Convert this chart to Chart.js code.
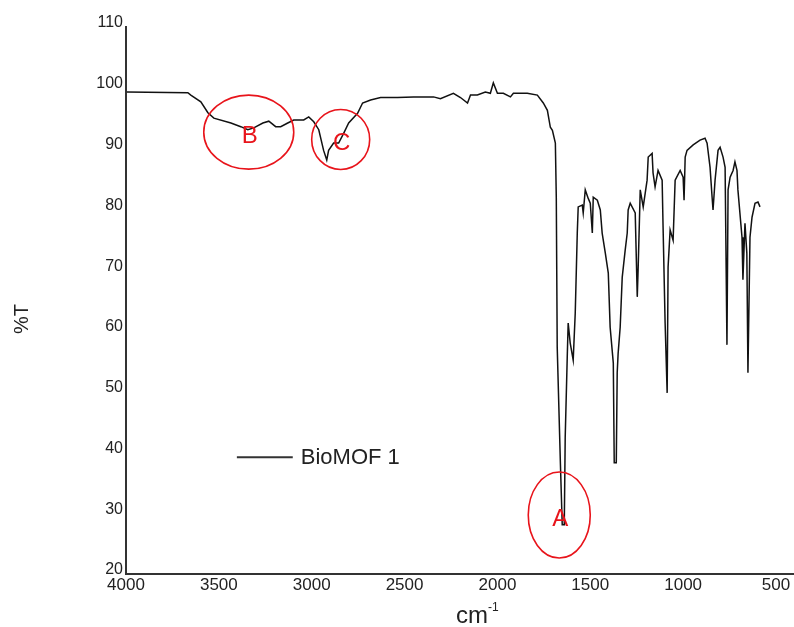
<!DOCTYPE html>
<html>
<head>
<meta charset="utf-8">
<title>BioMOF 1 IR spectrum</title>
<script src="https://cdn.jsdelivr.net/npm/chart.js@4.4.1/dist/chart.umd.min.js"></script>
<style>
  html, body { margin: 0; padding: 0; background: #fff; }
  #wrap { width: 794px; height: 627px; position: relative; }
</style>
</head>
<body>
<div id="wrap"><canvas id="ir"></canvas></div>
<script>
// spectrum: wavenumber (cm-1) and %T
const wavenumbers = [
  3995, 3667, 3651, 3597, 3559, 3527, 3435, 3382, 3344, 3312, 3263, 3231, 3194, 3167, 3129, 3097,
  3043, 3016, 2989, 2962, 2936, 2919, 2909, 2882, 2855, 2828, 2801, 2753, 2726, 2683, 2629, 2538,
  2452, 2344, 2307, 2237, 2199, 2161, 2145, 2108, 2065, 2038, 2022, 2000, 1968, 1930, 1914, 1839,
  1785, 1753, 1731, 1715, 1704, 1688, 1683, 1678, 1661, 1651, 1640, 1635, 1624, 1619, 1608, 1592,
  1581, 1570, 1565, 1543, 1538, 1527, 1511, 1500, 1489, 1484, 1462, 1446, 1436, 1419, 1403, 1393,
  1376, 1371, 1360, 1355, 1350, 1339, 1328, 1312, 1301, 1296, 1285, 1258, 1247, 1242, 1231, 1215,
  1194, 1188, 1167, 1162, 1151, 1135, 1113, 1108, 1097, 1086, 1081, 1070, 1054, 1043, 1016, 1000,
  995, 989, 979, 946, 909, 882, 871, 855, 844, 839, 828, 812, 801, 785, 774, 764,
  758, 747, 731, 721, 710, 705, 683, 678, 667, 657, 651, 640, 629, 613, 597, 586
];
const transmittance = [
  99.3, 99.2, 98.8, 97.7, 95.9, 95.0, 94.2, 93.6, 93.1, 93.4, 94.2, 94.5, 93.6, 93.6, 94.2, 94.7,
  94.7, 95.2, 94.4, 93.1, 89.7, 88.1, 89.7, 90.9, 90.9, 92.5, 94.2, 95.8, 97.5, 98.0, 98.4, 98.4,
  98.5, 98.5, 98.2, 99.1, 98.4, 97.5, 98.8, 98.8, 99.3, 99.1, 100.8, 99.1, 99.1, 98.5, 99.1, 99.1,
  98.8, 97.5, 96.3, 93.5, 93.0, 90.9, 82.0, 57.3, 38.3, 28.1, 28.1, 42.5, 55.7, 61.3, 58.0, 55.2,
  62.9, 76.1, 80.4, 80.7, 79.4, 83.2, 81.8, 81.0, 76.1, 82.0, 81.5, 79.9, 76.1, 72.8, 69.5, 60.6,
  54.7, 38.3, 38.3, 53.1, 56.3, 60.6, 68.8, 73.3, 76.1, 79.9, 81.0, 79.4, 65.6, 70.5, 83.2, 80.4,
  84.8, 88.6, 89.2, 86.0, 83.7, 86.4, 84.8, 77.1, 61.3, 49.8, 70.5, 76.6, 74.9, 84.8, 86.4, 85.3,
  81.5, 88.6, 89.7, 90.6, 91.4, 91.7, 90.9, 86.9, 82.0, 79.9, 84.8, 89.7, 90.2, 88.6, 86.9, 57.7,
  83.2, 85.3, 86.4, 87.8, 86.4, 83.2, 75.4, 68.4, 77.7, 72.8, 53.1, 75.4, 78.7, 81.0, 81.2, 80.4
];

const xTicks = [4000, 3500, 3000, 2500, 2000, 1500, 1000, 500];
const yTicks = [20, 30, 40, 50, 60, 70, 80, 90, 100, 110];

// circled bands, centres in data units
const bandLabels = ['A', 'B', 'C'];
const bandWn = [1667, 3339, 2844];
const bandT = [29.7, 92.7, 91.5];

const seriesName = 'BioMOF 1';
// where the legend sample sits, in data units
const legendWn = [3403, 3102];
const legendT = 39.2;

const inkColor = '#222';
const markColor = '#e8141b';

const points = wavenumbers.map((w, i) => ({ x: w, y: transmittance[i] }));

const overlay = {
  id: 'overlay',
  afterDraw(chart) {
    const ctx = chart.ctx;
    const xs = chart.scales.x;
    const ys = chart.scales.y;
    ctx.save();

    // red circles + letters
    const radii = { A: [31, 43], B: [45, 37], C: [29, 30] };
    bandLabels.forEach((lab, i) => {
      const cx = xs.getPixelForValue(bandWn[i]);
      const cy = ys.getPixelForValue(bandT[i]);
      ctx.strokeStyle = markColor;
      ctx.lineWidth = 1.6;
      ctx.beginPath();
      ctx.ellipse(cx, cy, radii[lab][0], radii[lab][1], 0, 0, Math.PI * 2);
      ctx.stroke();
      ctx.fillStyle = markColor;
      ctx.font = '24px "Liberation Sans", Arial, sans-serif';
      ctx.textAlign = 'center';
      ctx.textBaseline = 'middle';
      ctx.fillText(lab, cx + 1, cy + 4);
    });

    // legend inside the plot
    const lx0 = xs.getPixelForValue(legendWn[0]);
    const lx1 = xs.getPixelForValue(legendWn[1]);
    const ly = ys.getPixelForValue(legendT);
    ctx.strokeStyle = '#333';
    ctx.lineWidth = 2;
    ctx.beginPath();
    ctx.moveTo(lx0, ly);
    ctx.lineTo(lx1, ly);
    ctx.stroke();
    ctx.fillStyle = inkColor;
    ctx.font = '22px "Liberation Sans", Arial, sans-serif';
    ctx.textAlign = 'left';
    ctx.textBaseline = 'middle';
    ctx.fillText(seriesName, lx1 + 8, ly + 1);

    // axis titles
    ctx.font = '20px "Liberation Sans", Arial, sans-serif';
    ctx.textAlign = 'center';
    ctx.textBaseline = 'middle';
    ctx.translate(22, 319);
    ctx.rotate(-Math.PI / 2);
    ctx.fillText('%T', 0, 0);
    ctx.setTransform(1, 0, 0, 1, 0, 0);

    ctx.textAlign = 'left';
    ctx.textBaseline = 'alphabetic';
    ctx.font = '24px "Liberation Sans", Arial, sans-serif';
    ctx.fillText('cm', 456, 623);
    const w = ctx.measureText('cm').width;
    ctx.font = '12px "Liberation Sans", Arial, sans-serif';
    ctx.fillText('-1', 456 + w, 611);
    ctx.restore();
  }
};

new Chart(document.getElementById('ir'), {
  type: 'line',
  data: {
    datasets: [{
      label: seriesName,
      data: points,
      borderColor: '#111',
      borderWidth: 1.5,
      pointRadius: 0,
      tension: 0,
      fill: false
    }]
  },
  options: {
    responsive: true,
    maintainAspectRatio: false,
    animation: false,
    layout: { padding: { top: 27, left: 0, right: 0, bottom: 0 } },
    plugins: {
      legend: { display: false },
      tooltip: { enabled: false }
    },
    scales: {
      x: {
        type: 'linear',
        reverse: true,
        min: 403,
        max: 4000,
        afterBuildTicks: (s) => { s.ticks = xTicks.map(v => ({ value: v })); },
        afterFit: (s) => { s.height = 53; },
        grid: { display: false, drawTicks: false },
        border: { display: true, color: '#333', width: 2 },
        ticks: {
          padding: 1,
          maxRotation: 0,
          autoSkip: false,
          color: inkColor,
          callback: (v) => String(v),
          font: { family: '"Liberation Sans", Arial, sans-serif', size: 17 }
        }
      },
      y: {
        min: 20,
        max: 110,
        afterBuildTicks: (s) => { s.ticks = yTicks.map(v => ({ value: v })); },
        afterFit: (s) => { s.width = 126; },
        grid: { display: false, drawTicks: false },
        border: { display: true, color: '#333', width: 2 },
        ticks: {
          padding: 3,
          labelOffset: -4,
          color: inkColor,
          callback: (v) => String(v),
          font: { family: '"Liberation Sans", Arial, sans-serif', size: 16 }
        }
      }
    }
  },
  plugins: [overlay]
});
</script>
</body>
</html>
